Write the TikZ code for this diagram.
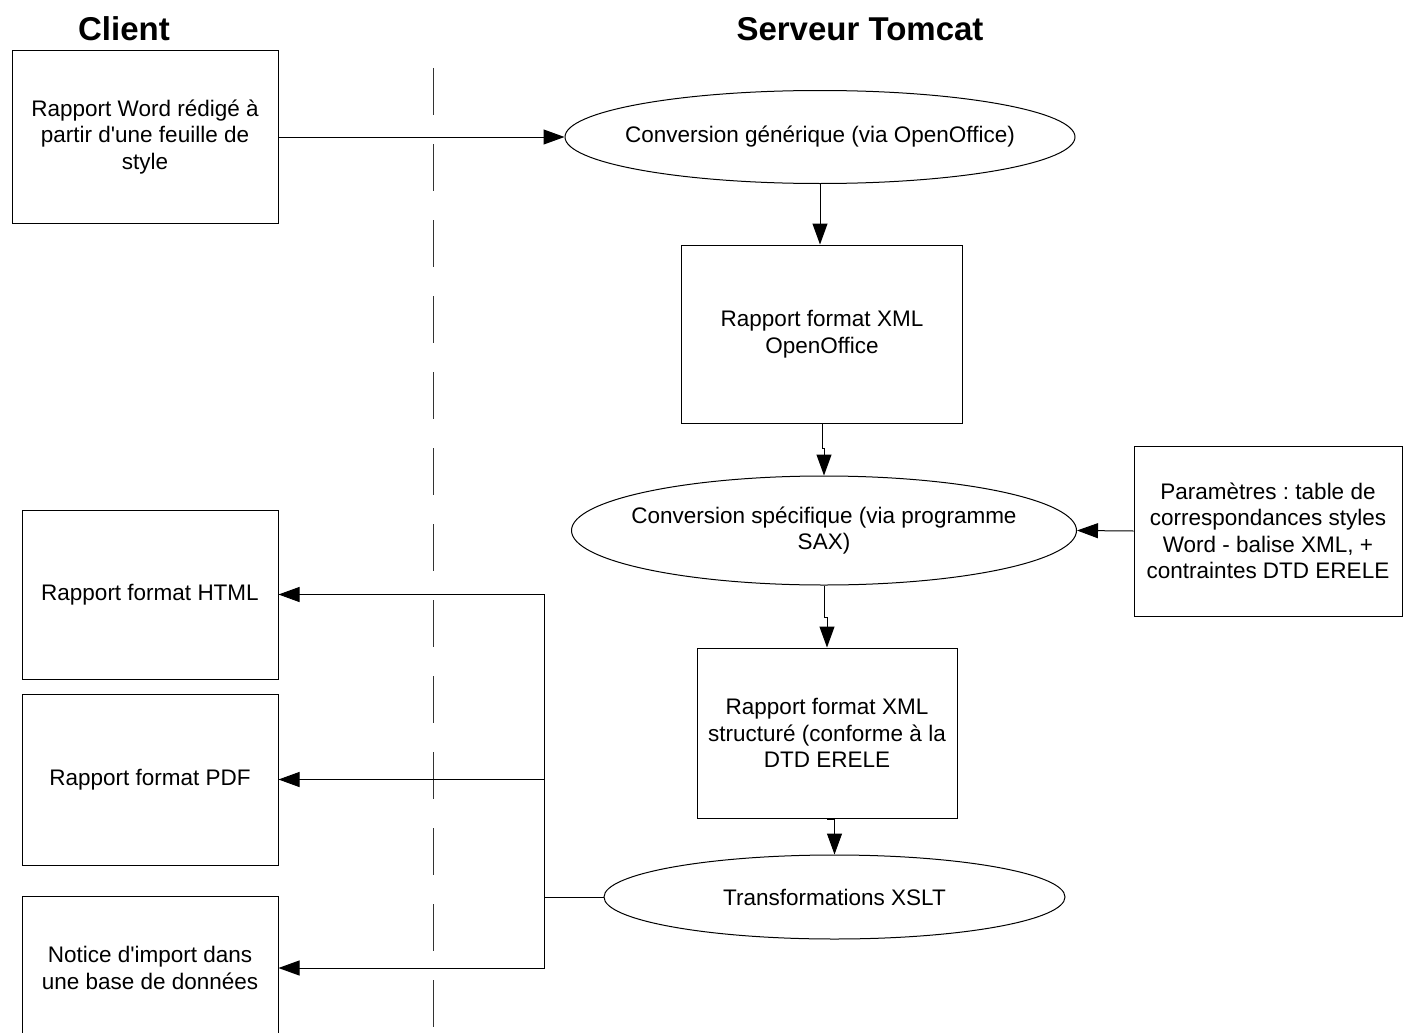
\documentclass[tikz,border=0pt]{standalone}
\usepackage{fontspec}
\setmainfont{Liberation Sans}
\frenchspacing
\usetikzlibrary{shapes.geometric,arrows.meta}
\tikzset{
  ltext/.style={font=\fontsize{22.5}{26.5}\selectfont, align=center, inner sep=0pt},
  ttl/.style={font=\fontsize{33}{36}\selectfont\bfseries, inner sep=0pt},
  boxn/.style={draw, line width=1pt, rectangle, inner sep=0pt, ltext},
  elln/.style={draw, line width=1pt, ellipse, inner sep=0pt},
  arr/.style={line width=1pt, -{Triangle[length=21pt,width=15pt]}},
  conn/.style={line width=1pt},
  lane/.style={line width=1pt, draw=black!80, dash pattern=on 47pt off 29pt}
}
\begin{document}
\begin{tikzpicture}[x=1pt,y=-1pt]
\useasboundingbox (0,0) rectangle (1403,1033);
% titles
\node[ttl] (tclient) at (124,29) {Client};
\node[ttl] (tserver) at (860,29) {Serveur Tomcat};
% swimlane separator
\coordinate (laneA) at (433,68);
\coordinate (laneB) at (433,1040);
\draw[lane] (laneA) -- (laneB);
% client boxes
\node[boxn, minimum width=266pt, minimum height=172pt] (word) at (145,137) {Rapport Word rédigé à\\partir d\textquotesingle une feuille de\\style};
\node[boxn, minimum width=256pt, minimum height=169pt] (html) at (150,594.5) {Rapport format HTML};
\node[boxn, minimum width=256pt, minimum height=171pt] (pdf) at (150,779.5) {Rapport format PDF};
\node[boxn, minimum width=256pt, minimum height=144pt] (notice) at (150,968) {Notice d\textquotesingle import dans\\une base de données};
% server
\node[elln, minimum width=510pt, minimum height=93pt, label={[ltext]center:Conversion générique (via OpenOffice)}] (e1) at (820,137) {};
\node[boxn, minimum width=281pt, minimum height=178pt] (xml1) at (822,334) {Rapport format XML\\OpenOffice};
\node[elln, minimum width=505pt, minimum height=109pt, label={[ltext]center:Conversion spécifique (via programme\\SAX)}] (e2) at (824,530.5) {};
\node[boxn, minimum width=268pt, minimum height=170pt] (params) at (1268,531) {Paramètres : table de\\correspondances styles\\Word - balise XML, +\\contraintes DTD ERELE};
\node[boxn, minimum width=260pt, minimum height=170pt] (xml2) at (827,733) {Rapport format XML\\structuré (conforme à la\\DTD ERELE};
\node[elln, minimum width=461pt, minimum height=84pt, label={[ltext]center:Transformations XSLT}] (e3) at (834.5,897) {};
% connectors
\draw[arr] (word.east) -- (e1.west);
\draw[arr] (e1.south) -- (e1.south |- xml1.north);
\draw[arr] (xml1.south) -- ++(0,25) -| (e2.north);
\draw[arr] (e2.south) -- ++(0,32) -| (xml2.north);
\draw[arr] (xml2.south) -- ++(0,1) -| (e3.north);
\draw[arr] (params.west) -- (e2.east);
\coordinate (bus) at (544,897);
\draw[conn] (e3.west) -- (bus);
\draw[arr] (bus) |- (html.east);
\draw[arr] (bus) |- (pdf.east);
\draw[arr] (bus) |- (notice.east);
\end{tikzpicture}
\end{document}
